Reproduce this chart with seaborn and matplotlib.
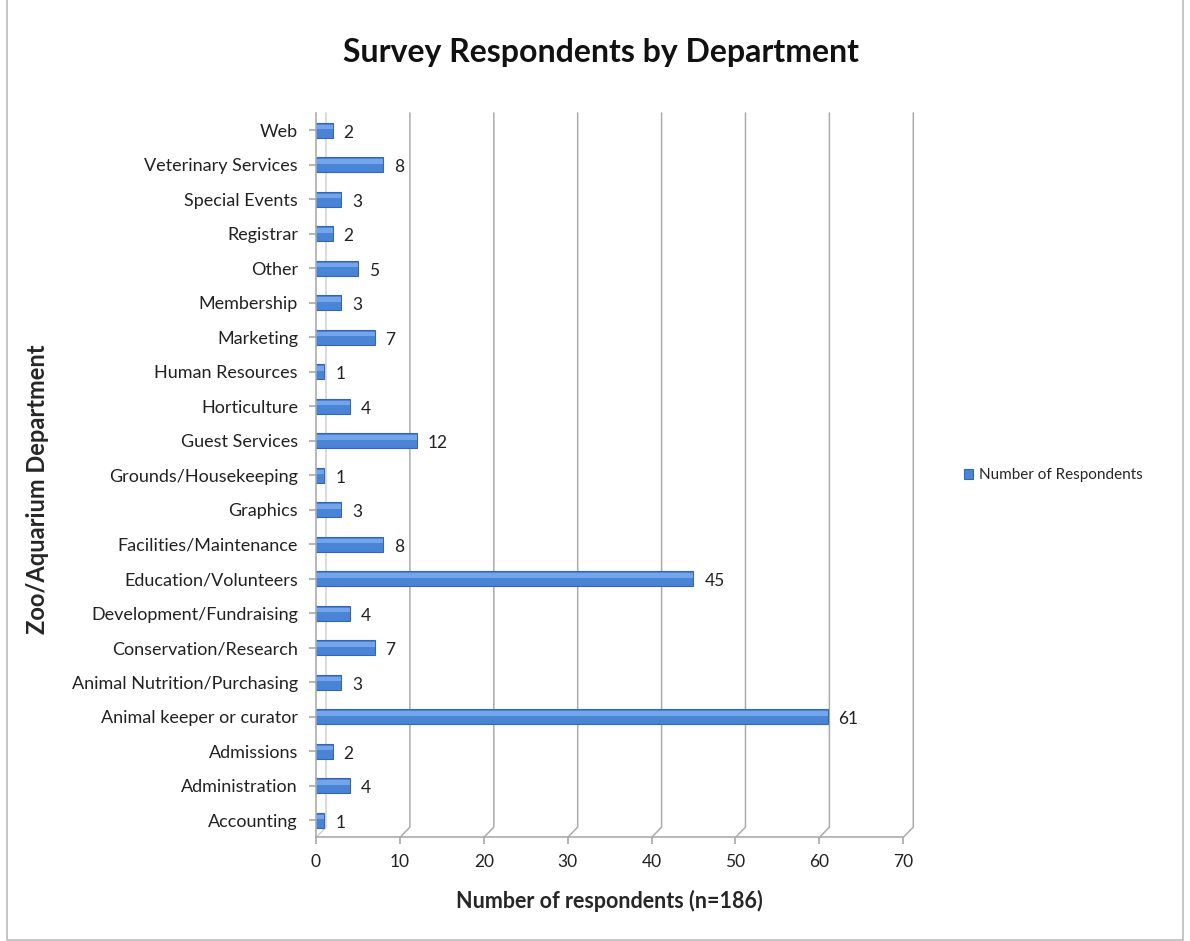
import numpy as np
import pandas as pd
import matplotlib.pyplot as plt
import matplotlib.patches as mpatches
import seaborn as sns

# Departments listed top to bottom as in the chart
departments = [
    "Web", "Veterinary Services", "Special Events", "Registrar", "Other",
    "Membership", "Marketing", "Human Resources", "Horticulture",
    "Guest Services", "Grounds/Housekeeping", "Graphics",
    "Facilities/Maintenance", "Education/Volunteers",
    "Development/Fundraising", "Conservation/Research",
    "Animal Nutrition/Purchasing", "Animal keeper or curator",
    "Admissions", "Administration", "Accounting",
]
respondents = [2, 8, 3, 2, 5, 3, 7, 1, 4, 12, 1, 3, 8, 45, 4, 7, 3, 61, 2, 4, 1]
x_ticks = [0, 10, 20, 30, 40, 50, 60, 70]

df = pd.DataFrame({"Department": departments, "Number of Respondents": respondents})

sns.set_theme(style="white")
plt.rcParams['font.family'] = ['Lato', 'DejaVu Sans']

fig = plt.figure(figsize=(11.9, 9.41), dpi=100)
ax = fig.add_axes([0.2655, 0.110, 0.4935, 0.770])

bar_color = '#4a84d6'
sns.barplot(data=df, x="Number of Respondents", y="Department", color=bar_color,
            width=0.44, edgecolor='#3566b4', linewidth=0.8, ax=ax,
            label="Number of Respondents", saturation=1)

# shaded cylinder look: lighter highlight stripe on each bar
for p in list(ax.patches):
    y0, h = p.get_y(), p.get_height()
    ax.add_patch(mpatches.Rectangle((p.get_x(), y0 + h * 0.15), p.get_width(), h * 0.3,
                                    color='#74a4ea', lw=0, zorder=p.get_zorder() + 0.1))

ax.set_xlim(0, 70)
ax.set_ylim(len(departments) - 0.5, -0.5)

# pseudo-3D gridlines: offset back wall with diagonal floor connectors
dx, dy = 1.2, 0.3
ybot, ytop = len(departments) - 0.5, -0.5
for t in x_ticks[1:]:
    ax.plot([t, t + dx, t + dx], [ybot, ybot - dy, ytop], color='#ababab', lw=1.1,
            zorder=0, clip_on=False)
ax.plot([0, dx, dx], [ybot, ybot - dy, ytop], color='#cccccc', lw=1.0, zorder=0, clip_on=False)

for spine in ['top', 'right']:
    ax.spines[spine].set_visible(False)
for spine in ['left', 'bottom']:
    ax.spines[spine].set_color('#ababab')
    ax.spines[spine].set_linewidth(1.2)

ax.set_xticks(x_ticks)
ax.tick_params(axis='x', length=5, color='#ababab', labelsize=12.5, pad=7, bottom=True)
ax.tick_params(axis='y', length=5, color='#ababab', labelsize=13, pad=8, left=True)
for lbl in ax.get_xticklabels() + ax.get_yticklabels():
    lbl.set_color('#222222')

for i, v in enumerate(respondents):
    ax.text(v + 1.3, i + 0.08, str(v), va='center', ha='left', fontsize=12.5, color='#222222')

ax.set_xlabel("Number of respondents (n=186)", fontsize=15.5, fontweight='bold', labelpad=14)
ax.set_ylabel("Zoo/Aquarium Department", fontsize=17, fontweight='bold')
ax.yaxis.set_label_coords(-0.455, 0.48)

fig.text(0.505, 0.944, "Survey Respondents by Department", ha='center', va='center',
         fontsize=23, fontweight='bold', color='#111111')

ax.legend(loc='center left', bbox_to_anchor=(1.08, 0.5), frameon=False, fontsize=11,
          handlelength=0.6, handleheight=0.6, handletextpad=0.4)

fig.patches.append(mpatches.Rectangle((0.006, 0.001), 0.988, 1.0, transform=fig.transFigure,
                                      fill=False, edgecolor='#bbbbbb', lw=1.2))

fig.savefig("out.png", dpi=100)
